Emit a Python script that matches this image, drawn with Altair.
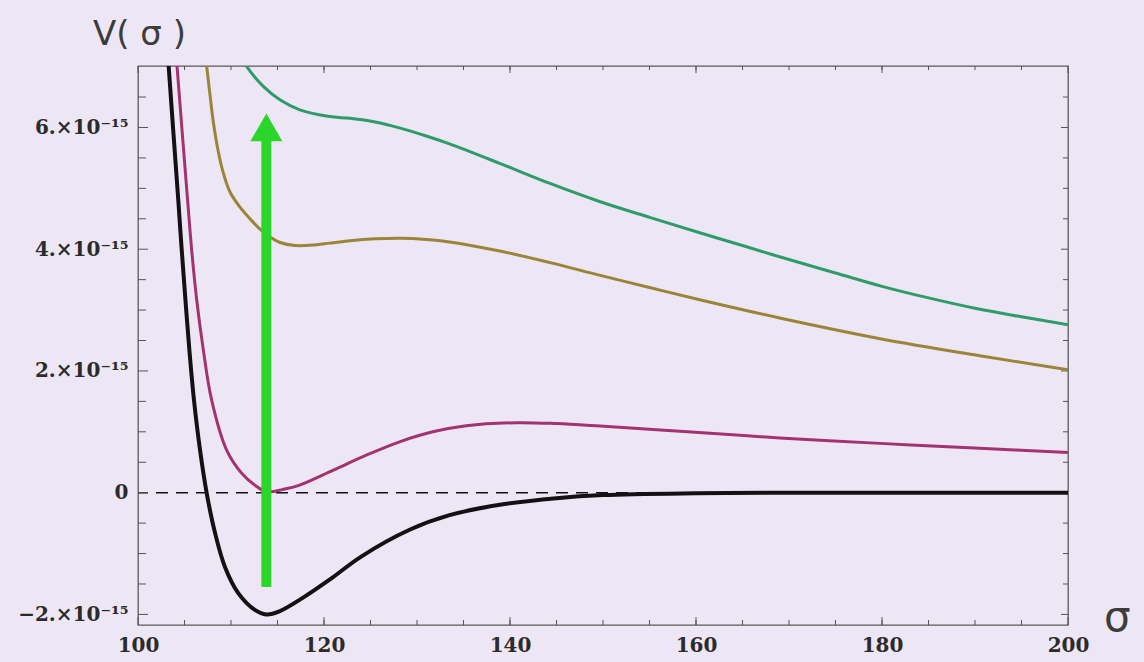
import altair as alt
import pandas as pd

# ---- data (V in units of 1e-15) ----
sigma_black = [102.8, 103.3, 104.33, 104.70, 105.1, 105.52, 106.02, 106.67, 107.39, 108.28, 109.35,
               110.78, 112.6, 113.8, 115.2, 118.0, 120.6, 124.0, 129.2, 133.5, 138.9, 145.0, 150.0,
               160.0, 170.0, 185.0, 200.0]
v_black = [8.2, 7.0, 4.81, 3.99, 3.17, 2.35, 1.52, 0.70, -0.01, -0.66, -1.22,
           -1.65, -1.93, -2.0, -1.95, -1.7, -1.43, -1.05, -0.61, -0.37, -0.2, -0.09, -0.04,
           -0.01, 0.0, 0.0, 0.0]

sigma_magenta = [103.9, 104.2, 105.33, 105.77, 106.31, 107.02, 107.92, 109.53, 111.15, 112.76, 113.7,
                 114.6, 115.5, 117.3, 121.0, 124.6, 128.2, 131.7, 135.3, 140.7, 145.0, 149.7, 158.3,
                 169.0, 179.8, 190.5, 200.0]
v_magenta = [7.6, 7.0, 4.81, 3.99, 3.17, 2.35, 1.52, 0.70, 0.32, 0.10, 0.02,
             0.02, 0.05, 0.12, 0.37, 0.62, 0.84, 1.0, 1.10, 1.15, 1.135, 1.095, 1.01,
             0.90, 0.81, 0.73, 0.66]

sigma_olive = [107.0, 107.39, 107.74, 108.10, 108.60, 109.14, 109.89, 110.97, 112.04, 113.12, 114.19,
               115.27, 116.88, 119.0, 120.6, 122.8, 125.5, 128.2, 131.0, 133.5, 138.9, 144.3, 149.7,
               155.0, 160.4, 169.0, 179.8, 190.5, 200.0]
v_olive = [7.55, 7.0, 6.54, 6.09, 5.63, 5.27, 4.94, 4.69, 4.50, 4.33, 4.20,
           4.11, 4.06, 4.07, 4.10, 4.14, 4.17, 4.18, 4.16, 4.12, 3.97, 3.78, 3.57,
           3.37, 3.17, 2.87, 2.53, 2.25, 2.02]

sigma_green = [110.0, 110.8, 111.7, 113.5, 115.3, 117.4, 120.6, 122.8, 125.5, 128.2, 131.0, 133.5,
               138.9, 144.3, 149.7, 155.1, 160.4, 165.0, 170.0, 175.0, 180.0, 185.0, 190.0, 195.0,
               200.0]
v_green = [7.7, 7.25, 7.0, 6.67, 6.45, 6.29, 6.18, 6.15, 6.09, 5.99, 5.86, 5.73,
           5.41, 5.08, 4.78, 4.52, 4.27, 4.06, 3.83, 3.61, 3.39, 3.20, 3.03, 2.89,
           2.76]

arrow_sigma = 113.8
arrow_from = -1.55
arrow_to = 5.85
arrow_head = 6.0

x_tick_vals = [100, 120, 140, 160, 180, 200]
x_minor_vals = list(range(105, 200, 5))
y_tick_vals = [-2, 0, 2, 4, 6]
y_tick_labels = ["−2.×10⁻¹⁵", "0", "2.×10⁻¹⁵", "4.×10⁻¹⁵", "6.×10⁻¹⁵"]
y_minor_vals = [-1.5, -1.0, -0.5, 0.5, 1.0, 1.5, 2.5, 3.0, 3.5, 4.5, 5.0, 5.5, 6.5]

E = 1e-15
W, H = 930, 559

series_names = ["green", "olive", "magenta"]
series_colors = ["#2f9a6a", "#9a8438", "#a3336f"]

rows = []
for name, xs_, vs in [("green", sigma_green, v_green), ("olive", sigma_olive, v_olive),
                      ("magenta", sigma_magenta, v_magenta)]:
    for s, v in zip(xs_, vs):
        rows.append({"sigma": s, "V": v * E, "series": name})
curves = pd.DataFrame(rows)
black = pd.DataFrame({"sigma": sigma_black, "V": [v * E for v in v_black]})

xs = alt.Scale(domain=[100, 200], nice=False, zero=False)
ys = alt.Scale(domain=[-2.174 * E, 7.01 * E], nice=False, zero=False)

# label expression for y axis
expr = ""
bounds = [-1, 1, 3, 5]
for b, lab in zip(bounds, y_tick_labels[:-1]):
    expr += f"datum.value < {b}e-15 ? '{lab}' : "
expr += f"'{y_tick_labels[-1]}'"

x_axis = alt.Axis(values=x_tick_vals, labelFont="DejaVu Serif", labelFontWeight="bold",
                  labelFontSize=20, labelColor="#2b2b2b", tickSize=0, domain=False, grid=False,
                  labelPadding=10, labelFlush=False, labelOverlap=False, title=None)
y_axis = alt.Axis(values=[v * E for v in y_tick_vals], labelExpr=expr, labelFont="DejaVu Serif",
                  labelFontWeight="bold", labelFontSize=20, labelColor="#2b2b2b", tickSize=0,
                  domain=False, grid=False, labelPadding=10, labelOverlap=False, title=None)

X = lambda f: alt.X(f, scale=xs, axis=x_axis)
Y = lambda f: alt.Y(f, scale=ys, axis=y_axis)

zero = alt.Chart(pd.DataFrame({"V": [0.0]})).mark_rule(
    color="#111111", strokeWidth=1.5, strokeDash=[12, 8]
).encode(y=Y("V:Q"))

lines = alt.Chart(curves).mark_line(strokeWidth=3, interpolate="catmull-rom", clip=True).encode(
    x=X("sigma:Q"),
    y=Y("V:Q"),
    color=alt.Color("series:N", scale=alt.Scale(domain=series_names, range=series_colors), legend=None),
    detail="series:N",
)

black_line = alt.Chart(black).mark_line(strokeWidth=4, interpolate="catmull-rom", clip=True,
                                        color="#141014").encode(
    x=X("sigma:Q"),
    y=Y("V:Q"),
)

arrow_df = pd.DataFrame({"sigma": [arrow_sigma], "y1": [arrow_from * E], "y2": [arrow_to * E],
                         "head": [arrow_head * E]})
shaft = alt.Chart(arrow_df).mark_rule(color="#2bd62b", strokeWidth=10, strokeCap="butt").encode(
    x=X("sigma:Q"),
    y=Y("y1:Q"),
    y2="y2:Q",
)
head = alt.Chart(arrow_df).mark_point(shape="triangle-up", filled=True, size=1024, opacity=1,
                                      color="#2bd62b").encode(
    x=X("sigma:Q"),
    y=Y("head:Q"),
)

# inward frame ticks
def yticks(vals, x0, x1):
    return alt.Chart(pd.DataFrame({"t": [v * E for v in vals]})).mark_rule(
        color="#555555", strokeWidth=1).encode(
        y=Y("t:Q"), x=alt.value(x0), x2=alt.value(x1))

def xticks(vals, y0, y1):
    return alt.Chart(pd.DataFrame({"t": vals})).mark_rule(
        color="#555555", strokeWidth=1).encode(
        x=X("t:Q"), y=alt.value(y0), y2=alt.value(y1))

tick_layers = [
    yticks(y_tick_vals, 0, 10), yticks(y_minor_vals, 0, 8),
    yticks(y_tick_vals, W - 7, W), yticks(y_minor_vals, W - 5, W),
    xticks(x_tick_vals, H - 8, H), xticks(x_minor_vals, H - 5, H),
    xticks(x_tick_vals, 0, 7), xticks(x_minor_vals, 0, 4),
]

title_y = alt.Chart(pd.DataFrame({"t": ["V( σ )"]})).mark_text(
    font="DejaVu Sans", fontSize=34, color="#3c3c3c", align="left", baseline="alphabetic"
).encode(x=alt.value(-45), y=alt.value(-21), text="t:N")
title_x = alt.Chart(pd.DataFrame({"t": ["σ"]})).mark_text(
    font="DejaVu Sans", fontSize=42, color="#3c3c3c", align="left", baseline="alphabetic"
).encode(x=alt.value(W + 36), y=alt.value(H + 6), text="t:N")

chart = alt.layer(
    zero, *tick_layers, lines, black_line, shaft, head, title_y, title_x
).properties(
    width=W, height=H,
    padding={"left": 138, "top": 66, "right": 76, "bottom": 37},
    autosize=alt.AutoSizeParams(type="none"),
    background="#EDE7F5",
).configure_view(stroke="#5a5a5a", strokeWidth=1.3, fill="#EDE7F5")

chart.save("out.html", embed_options={"renderer": "svg", "actions": False})
